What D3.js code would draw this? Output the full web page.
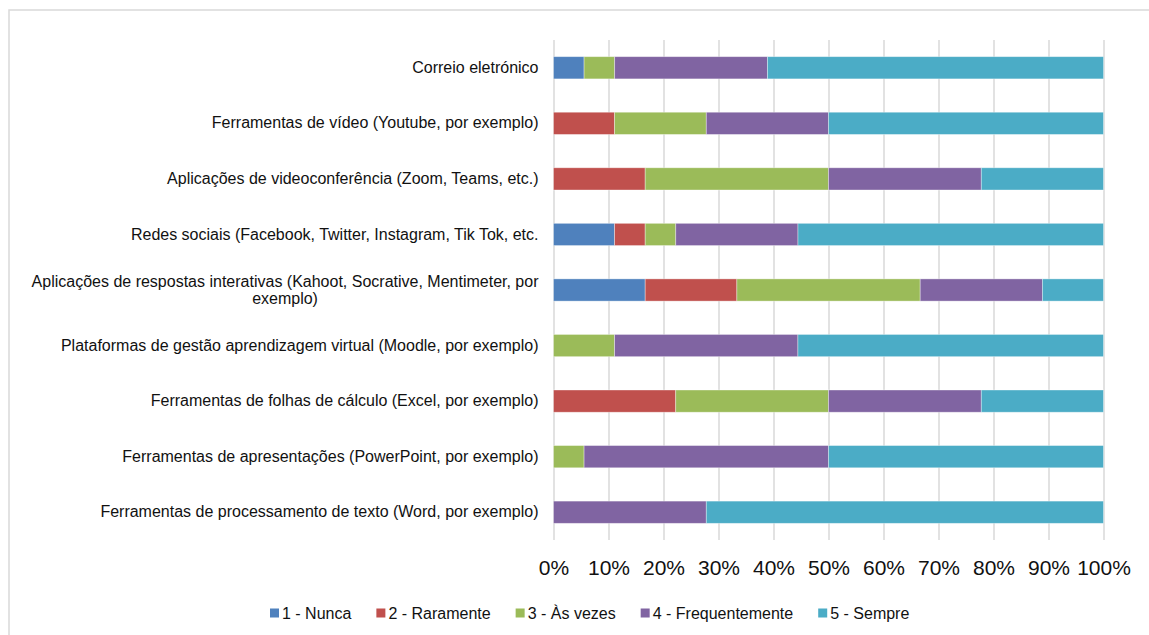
<!DOCTYPE html>
<html>
<head>
<meta charset="utf-8">
<script src="https://cdn.jsdelivr.net/npm/d3@7"></script>
<style>
  body { margin: 0; background: #fff; }
  text { font-family: "Liberation Sans", Arial, Helvetica, sans-serif; fill: #111; }
</style>
</head>
<body>
<div id="chart"></div>
<script>
// categories, top to bottom
var categories = [
    "Correio eletrónico",
    "Ferramentas de vídeo (Youtube, por exemplo)",
    "Aplicações de videoconferência (Zoom, Teams, etc.)",
    "Redes sociais (Facebook, Twitter, Instagram, Tik Tok, etc.",
    "Aplicações de respostas interativas (Kahoot, Socrative, Mentimeter, por exemplo)",
    "Plataformas de gestão aprendizagem virtual (Moodle, por exemplo)",
    "Ferramentas de folhas de cálculo (Excel, por exemplo)",
    "Ferramentas de apresentações (PowerPoint, por exemplo)",
    "Ferramentas de processamento de texto (Word, por exemplo)"
];

var seriesNames = ["1 - Nunca", "2 - Raramente", "3 - Às vezes", "4 - Frequentemente", "5 - Sempre"];

// percentages per series, same order as categories
var nunca =          [5.56, 0,     0,     11.11, 16.67, 0,     0,     0,     0];
var raramente =      [0,    11.11, 16.67, 5.56,  16.67, 0,     22.22, 0,     0];
var asVezes =        [5.56, 16.67, 33.33, 5.56,  33.33, 11.11, 27.78, 5.56,  0];
var frequentemente = [27.78, 22.22, 27.78, 22.22, 22.22, 33.33, 27.78, 44.44, 27.78];
var sempre =         [61.11, 50.0,  22.22, 55.56, 11.11, 55.56, 22.22, 50.0,  72.22];

var xTicks = [0, 10, 20, 30, 40, 50, 60, 70, 80, 90, 100];

var colors = ["#4F81BD", "#C0504D", "#9BBB59", "#8064A2", "#4BACC6"];

var W = 1149, H = 635;
var plot = { left: 553.5, right: 1103.5, top: 40, bottom: 540 };

var svg = d3.select("#chart")
    .append("svg")
    .attr("width", W)
    .attr("height", H);

// outer frame
svg.append("rect")
    .attr("x", 9)
    .attr("y", 10)
    .attr("width", W + 20)
    .attr("height", H + 20)
    .attr("fill", "none")
    .attr("stroke", "#d9d9d9")
    .attr("stroke-width", 1.5);

// build rows for stacking
var allSeries = [nunca, raramente, asVezes, frequentemente, sempre];
var rows = categories.map(function (c, i) {
    var r = { name: c };
    seriesNames.forEach(function (s, j) { r[s] = allSeries[j][i]; });
    return r;
});
var stacked = d3.stack().keys(seriesNames)(rows);

var x = d3.scaleLinear()
    .domain([0, 100])
    .range([plot.left, plot.right]);

var y = d3.scaleBand()
    .domain(categories)
    .range([plot.top, plot.bottom])
    .paddingInner(0.6)
    .paddingOuter(0.3);

var color = d3.scaleOrdinal()
    .domain(seriesNames)
    .range(colors);

// vertical gridlines
svg.append("g")
    .attr("class", "grid")
    .attr("transform", "translate(0," + plot.bottom + ")")
    .call(d3.axisBottom(x).tickValues(xTicks).tickSize(plot.top - plot.bottom).tickFormat(""))
    .call(function (g) { g.select(".domain").remove(); })
    .selectAll("line")
    .attr("stroke", "#d9d9d9")
    .attr("stroke-width", 1.5);

// bars
svg.selectAll("g.layer")
    .data(stacked)
    .enter()
    .append("g")
    .attr("class", "layer")
    .attr("fill", function (d) { return color(d.key); })
    .selectAll("rect")
    .data(function (d) { return d; })
    .enter()
    .filter(function (d) { return d[1] - d[0] > 0; })
    .append("rect")
    .attr("x", function (d) { return x(d[0]); })
    .attr("y", function (d) { return y(d.data.name); })
    .attr("width", function (d) { return x(d[1]) - x(d[0]); })
    .attr("height", y.bandwidth())
    .attr("stroke", "#ffffff")
    .attr("stroke-opacity", 0.45)
    .attr("stroke-width", 0.8);

// x axis labels
svg.append("g")
    .attr("transform", "translate(0," + plot.bottom + ")")
    .call(d3.axisBottom(x).tickValues(xTicks).tickSize(0).tickPadding(20)
        .tickFormat(function (d) { return d + "%"; }))
    .call(function (g) { g.select(".domain").remove(); })
    .selectAll("text")
    .attr("fill", "#111")
    .style("font-size", "21px")
    .style("font-family", "'Liberation Sans', Arial, sans-serif");

// category labels
var labelPad = 15, maxLabelWidth = 525, lineH = 17;
var yAxis = svg.append("g")
    .attr("transform", "translate(" + plot.left + ",0)")
    .call(d3.axisLeft(y).tickSize(0).tickPadding(labelPad))
    .call(function (g) { g.select(".domain").remove(); });

yAxis.selectAll("text")
    .attr("fill", "#111")
    .style("font-size", "16px")
    .style("font-family", "'Liberation Sans', Arial, sans-serif")
    .each(function () {
        var text = d3.select(this);
        var words = text.text().split(" ");
        text.text(null);
        var lines = [], line = [];
        var probe = text.append("tspan");
        words.forEach(function (w) {
            line.push(w);
            probe.text(line.join(" "));
            if (probe.node().getComputedTextLength() > maxLabelWidth && line.length > 1) {
                line.pop();
                lines.push(line.join(" "));
                line = [w];
            }
        });
        lines.push(line.join(" "));
        probe.remove();
        if (lines.length === 1) {
            text.text(lines[0]);
            return;
        }
        // wrapped: center lines inside a right-aligned block
        var widths = lines.map(function (l) {
            var t = text.append("tspan").text(l);
            var w = t.node().getComputedTextLength();
            t.remove();
            return w;
        });
        var block = d3.max(widths);
        text.attr("text-anchor", "middle").attr("dy", null);
        lines.forEach(function (l, i) {
            text.append("tspan")
                .attr("x", -labelPad - block / 2)
                .attr("y", (i - (lines.length - 1) / 2) * lineH)
                .attr("dy", "0.32em")
                .text(l);
        });
    });

// legend
var legend = svg.append("g").attr("class", "legend");
var lx = 270, ly = 613;
seriesNames.forEach(function (s) {
    var item = legend.append("g").attr("transform", "translate(" + lx + "," + ly + ")");
    item.append("rect")
        .attr("x", 0)
        .attr("y", -4.5)
        .attr("width", 9)
        .attr("height", 9)
        .attr("fill", color(s));
    var t = item.append("text")
        .attr("x", 12)
        .attr("dy", "0.35em")
        .style("font-size", "16px")
        .text(s);
    lx += 12 + t.node().getComputedTextLength() + 25;
});
</script>
</body>
</html>
